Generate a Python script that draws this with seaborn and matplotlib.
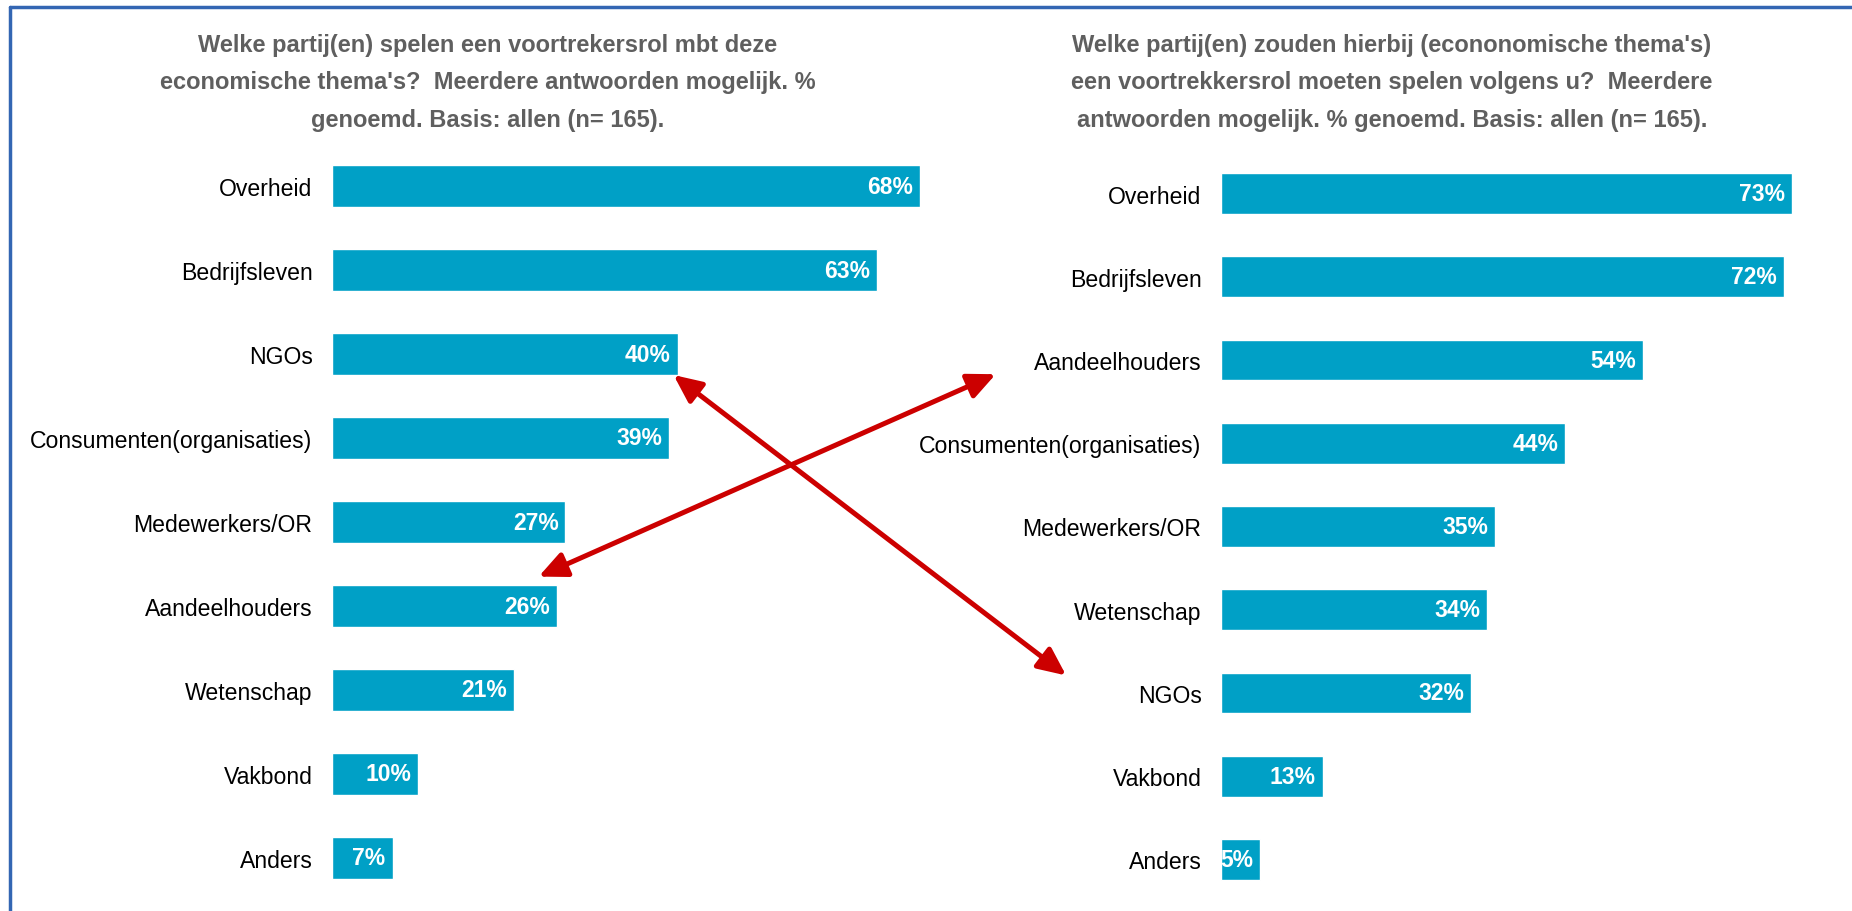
import matplotlib
matplotlib.use('Agg')
import matplotlib.pyplot as plt
from matplotlib.patches import ConnectionPatch, ArrowStyle
from matplotlib.lines import Line2D
import pandas as pd
import seaborn as sns

# Data
left_cats = ['Overheid', 'Bedrijfsleven', 'NGOs', 'Consumenten(organisaties)',
             'Medewerkers/OR', 'Aandeelhouders', 'Wetenschap', 'Vakbond', 'Anders']
left_vals = [68, 63, 40, 39, 27, 26, 21, 10, 7]

right_cats = ['Overheid', 'Bedrijfsleven', 'Aandeelhouders', 'Consumenten(organisaties)',
              'Medewerkers/OR', 'Wetenschap', 'NGOs', 'Vakbond', 'Anders']
right_vals = [73, 72, 54, 44, 35, 34, 32, 13, 5]

left_title = ["Welke partij(en) spelen een voortrekersrol mbt deze",
              "economische thema's?  Meerdere antwoorden mogelijk. %",
              "genoemd. Basis: allen (n= 165)."]
right_title = ["Welke partij(en) zouden hierbij (econonomische thema's)",
               "een voortrekkersrol moeten spelen volgens u?  Meerdere",
               "antwoorden mogelijk. % genoemd. Basis: allen (n= 165)."]

BAR = '#00A0C6'
ARROW = '#CC0000'
FRAME = '#3366B3'
W, H = 1852, 912

sns.set_theme(style='white')
plt.rcParams['font.family'] = ['Liberation Sans', 'DejaVu Sans']

fig = plt.figure(figsize=(W / 100, H / 100), dpi=100)


def px_axes(x0, x1, y0, y1):
    # pixel box (top-left origin) -> figure fraction axes
    return fig.add_axes([x0 / W, 1 - y1 / H, (x1 - x0) / W, (y1 - y0) / H])


def bar_panel(ax, cats, vals):
    df = pd.DataFrame({'cat': cats, 'val': vals})
    sns.barplot(data=df, x='val', y='cat', color=BAR, saturation=1,
                width=0.49, orient='h', ax=ax)
    ax.set_xlim(0, max(vals))
    ax.set_ylim(len(cats) - 0.5, -0.5)
    ax.set_xlabel('')
    ax.set_ylabel('')
    ax.set_xticks([])
    ax.tick_params(axis='y', length=0, pad=14, labelsize=16.6, labelcolor='black')
    for s in ax.spines.values():
        s.set_visible(False)
    ax.patch.set_alpha(0)
    for i, v in enumerate(vals):
        ax.annotate(f'{v}%', xy=(v, i), xytext=(-5, 0), textcoords='offset points',
                    ha='right', va='center', color='white', fontsize=16.5,
                    fontweight='bold')


ax1 = px_axes(332, 920, 145, 901)
bar_panel(ax1, left_cats, left_vals)

ax2 = px_axes(1221, 1792, 153, 902)
bar_panel(ax2, right_cats, right_vals)

# Titles
for k, line in enumerate(left_title):
    fig.text(488 / W, 1 - (52 + 37.5 * k) / H, line, ha='center', va='baseline',
             fontsize=17, fontweight='bold', color='#5F5F5F')
for k, line in enumerate(right_title):
    fig.text(1392 / W, 1 - (52 + 37.5 * k) / H, line, ha='center', va='baseline',
             fontsize=17, fontweight='bold', color='#5F5F5F')

# Red double arrows between the two panels
style = ArrowStyle('<|-|>', head_length=1.2, head_width=0.55)
arrows = [((39.5, 2.25), (-19.8, 5.79)),
          ((23.9, 4.65), (-28.8, 2.17))]
for a, b in arrows:
    con = ConnectionPatch(xyA=a, coordsA=ax1.transData, xyB=b, coordsB=ax2.transData,
                          arrowstyle=style, mutation_scale=14, color=ARROW, lw=3.6,
                          shrinkA=0, shrinkB=0)
    fig.add_artist(con)

# Frame lines (top and left)
fig.add_artist(Line2D([10 / W, 1], [1 - 8 / H, 1 - 8 / H], color=FRAME, lw=2.5,
                      transform=fig.transFigure))
fig.add_artist(Line2D([10 / W, 10 / W], [0, 1 - 8 / H], color=FRAME, lw=2.5,
                      transform=fig.transFigure))

fig.savefig('out.png', dpi=100)
